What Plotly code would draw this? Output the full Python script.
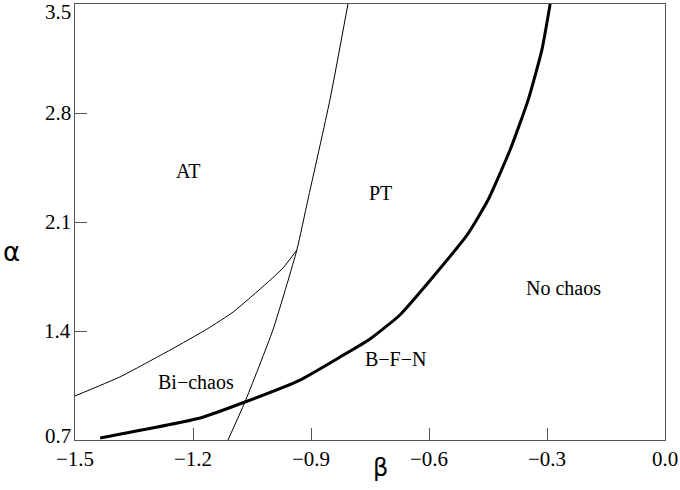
import plotly.graph_objects as go

# B-F-N boundary (thick)
bfn_beta = [-1.436, -1.182, -1.068, -0.928, -0.826, -0.750, -0.674, -0.590, -0.503, -0.450, -0.394, -0.348, -0.313, -0.292]
bfn_alpha = [0.713, 0.841, 0.944, 1.085, 1.233, 1.349, 1.503, 1.747, 2.017, 2.241, 2.562, 2.883, 3.205, 3.500]

# AT / Bi-chaos boundary
bi_beta = [-1.500, -1.386, -1.258, -1.164, -1.098, -1.012, -0.971, -0.936]
bi_alpha = [0.983, 1.105, 1.278, 1.413, 1.522, 1.708, 1.805, 1.920]

# AT / PT boundary (steep)
at_beta = [-1.111, -1.068, -0.997, -0.936, -0.908, -0.852, -0.806]
at_alpha = [0.700, 0.944, 1.406, 1.920, 2.241, 2.883, 3.500]

region_names = ['AT', 'PT', 'No chaos', 'B\u2212F\u2212N', 'Bi\u2212chaos']
region_beta = [-1.212, -0.724, -0.257, -0.686, -1.192]
region_alpha = [2.428, 2.286, 1.676, 1.220, 1.072]

x_ticks = [-1.5, -1.2, -0.9, -0.6, -0.3, 0.0]
x_labels = ['\u22121.5', '\u22121.2', '\u22120.9', '\u22120.6', '\u22120.3', '0.0']
y_ticks = [0.7, 1.4, 2.1, 2.8, 3.5]
y_labels = ['0.7', '1.4', '2.1', '2.8', '3.5']

serif = 'Liberation Serif, DejaVu Serif, serif'

fig = go.Figure()
fig.add_trace(go.Scatter(x=bfn_beta, y=bfn_alpha, mode='lines',
                         line=dict(color='black', width=3, shape='spline', smoothing=0.5),
                         showlegend=False))
fig.add_trace(go.Scatter(x=bi_beta, y=bi_alpha, mode='lines',
                         line=dict(color='black', width=1, shape='spline', smoothing=0.5),
                         showlegend=False))
fig.add_trace(go.Scatter(x=at_beta, y=at_alpha, mode='lines',
                         line=dict(color='black', width=1, shape='spline', smoothing=0.5),
                         showlegend=False))

for name, b, a in zip(region_names, region_beta, region_alpha):
    fig.add_annotation(x=b, y=a, text=name, showarrow=False,
                       font=dict(family=serif, size=20, color='black'))

# y tick labels kept inside the figure like the original (end ones nudged in)
for v, lab in zip(y_ticks, y_labels):
    shift = -8 if v == y_ticks[-1] else (4 if v == y_ticks[0] else 0)
    fig.add_annotation(x=0, y=v, xref='paper', yref='y', text=lab, showarrow=False,
                       xanchor='right', yanchor='middle', xshift=-2, yshift=shift,
                       font=dict(family=serif, size=21, color='black'))

# axis symbols (kept horizontal like the original)
fig.add_annotation(x=-0.107, y=0.431, xref='paper', yref='paper', text='\u03b1', showarrow=False,
                   xanchor='center', yanchor='middle',
                   font=dict(family='DejaVu Sans', size=26, color='black'))
fig.add_annotation(x=0.517, y=-0.064, xref='paper', yref='paper', text='\u03b2', showarrow=False,
                   xanchor='center', yanchor='middle',
                   font=dict(family='DejaVu Sans', size=24, color='black'))

fig.update_xaxes(range=[-1.5, 0.0], tickvals=x_ticks, ticktext=x_labels,
                 ticks='inside', ticklen=12, tickcolor='#555',
                 showline=True, linecolor='#555', linewidth=1, mirror=True,
                 showgrid=False, zeroline=False, automargin=False,
                 tickfont=dict(family=serif, size=21, color='black'))
fig.update_yaxes(range=[0.7, 3.5], tickvals=y_ticks, showticklabels=False,
                 ticks='inside', ticklen=12, tickcolor='#555',
                 showline=True, linecolor='#555', linewidth=1, mirror=True,
                 showgrid=False, zeroline=False, automargin=False)

fig.update_layout(width=680, height=490,
                  margin=dict(l=75, r=15, t=4, b=50, autoexpand=False),
                  plot_bgcolor='white', paper_bgcolor='white')

# drop the browser's default 8px page margin so the figure sits at the window corner
fig.write_html("out.html", config={'displayModeBar': False},
               post_script="document.body.style.margin = '0';")
